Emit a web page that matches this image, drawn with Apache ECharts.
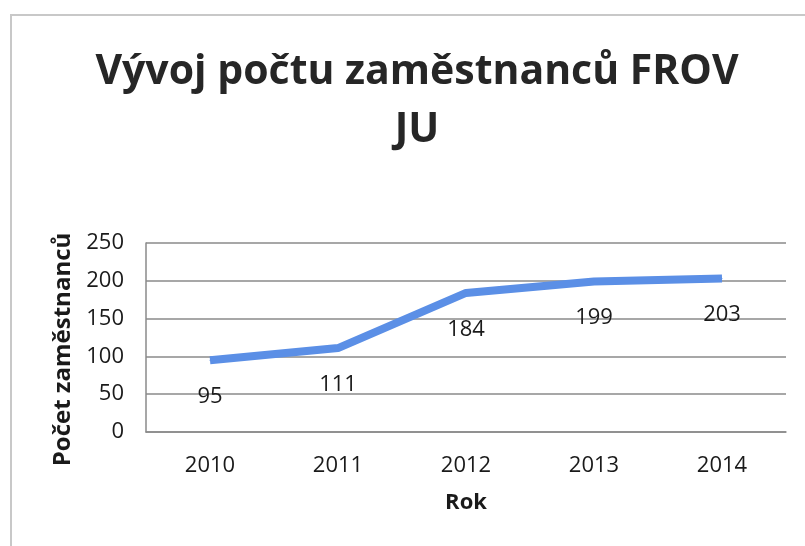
<!DOCTYPE html>
<html>
<head>
<meta charset="utf-8">
<script src="https://cdn.jsdelivr.net/npm/echarts@6/dist/echarts.min.js"></script>
<style>
  html, body { margin: 0; padding: 0; background: #fff; }
  #chart { width: 805px; height: 546px; }
</style>
</head>
<body>
<div id="chart"></div>
<script>
const years = ["2010", "2011", "2012", "2013", "2014"];
const employees = [95, 111, 184, 199, 203];

const chart = echarts.init(document.getElementById("chart"));
const font = "'Open Sans', 'DejaVu Sans', sans-serif";

const option = {
  animation: false,
  backgroundColor: "#fff",
  textStyle: { fontFamily: font },
  graphic: [
    {
      type: "rect",
      shape: { x: 11, y: 15, width: 820, height: 560 },
      style: { fill: "none", stroke: "#c8c8c8", lineWidth: 2 },
      silent: true,
    },
  ],
  title: {
    text: "Vývoj počtu zaměstnanců FROV\nJU",
    left: 412,
    textAlign: "center",
    top: 38,
    textStyle: {
      fontFamily: font,
      fontSize: 41,
      fontWeight: "bold",
      color: "#262626",
      lineHeight: 58,
    },
  },
  grid: {
    left: 146,
    right: 19,
    top: 243,
    bottom: 114,
  },
  xAxis: {
    type: "category",
    data: years,
    boundaryGap: true,
    name: "Rok",
    nameLocation: "middle",
    nameGap: 60,
    nameTextStyle: { fontSize: 22, fontWeight: "bold", color: "#1a1a1a" },
    axisLine: { lineStyle: { color: "#8a8a8a", width: 1.5 } },
    axisTick: { show: false },
    axisLabel: { fontSize: 22, color: "#1a1a1a", margin: 23 },
  },
  yAxis: {
    type: "value",
    min: 0,
    max: 250,
    interval: 50,
    name: "Počet zaměstnanců",
    nameLocation: "middle",
    nameGap: 70,
    nameTextStyle: {
      fontSize: 24,
      fontWeight: "bold",
      color: "#1a1a1a",
      padding: [0, 24, 0, 0],
    },
    axisLine: { show: true, lineStyle: { color: "#8a8a8a", width: 1.5 } },
    axisTick: { show: false },
    axisLabel: { fontSize: 22, color: "#1a1a1a", margin: 22 },
    splitLine: { lineStyle: { color: "#8a8a8a", width: 1.5 } },
  },
  series: [
    {
      name: "Počet zaměstnanců",
      type: "line",
      data: employees,
      symbol: "circle",
      symbolSize: 1,
      showSymbol: true,
      itemStyle: { color: "#5b8fe6" },
      lineStyle: { color: "#5b8fe6", width: 8 },
      label: {
        show: true,
        position: "bottom",
        distance: 25,
        fontSize: 22,
        color: "#1a1a1a",
      },
    },
  ],
};

chart.setOption(option);
</script>
</body>
</html>
